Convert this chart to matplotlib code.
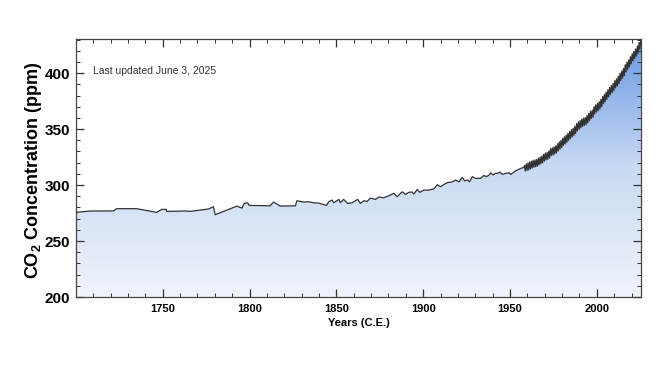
import numpy as np
import matplotlib
matplotlib.use("Agg")
from matplotlib import pyplot as plt
from matplotlib.colors import LinearSegmentedColormap

plt.rcParams['font.family'] = ['Liberation Sans', 'DejaVu Sans']
plt.rcParams['mathtext.fontset'] = 'custom'
plt.rcParams['mathtext.bf'] = 'Liberation Sans:bold'

# Ice core record
ice_years = [1700, 1708, 1721.5, 1723.5, 1735, 1746.5, 1749.4, 1752, 1752.3, 1763, 1765.8,
             1776.3, 1779.2, 1780.2, 1792.7, 1795.6, 1796.9, 1798.9, 1799.8, 1811.9,
             1813.8, 1817.7, 1826.4, 1827.3, 1831.2, 1834, 1836.9, 1839.8, 1844.3, 1845.6,
             1847.5, 1848.5, 1851.4, 1852.3, 1854.2, 1856.5, 1859, 1862.3, 1863.8, 1865.8,
             1867.7, 1869.6, 1872.5, 1874.5, 1877.3, 1880.2, 1883.1, 1885, 1887.9, 1889.8,
             1891.7, 1893.6, 1894.6, 1896.6, 1898, 1900.4, 1903.3, 1906.2, 1908.1, 1910,
             1912, 1913.9, 1916.8, 1918.7, 1920.6, 1922.5, 1923.9, 1925.4, 1926.7, 1928.3,
             1930.2, 1933.1, 1935, 1936.4, 1938, 1938.9, 1940.3, 1941.4, 1942.7, 1944.3,
             1945.6, 1947.5, 1949.5, 1950.4, 1953.3, 1956.2, 1958.1]
ice_co2 = [275.6, 276.8, 276.9, 278.9, 278.9, 275.6, 278.3, 278.3, 276.5, 276.8, 276.5,
           278.6, 280.6, 273.5, 281.2, 279.4, 283.6, 284.2, 281.8, 281.5,
           284.8, 281.2, 281.5, 286.0, 284.8, 285.1, 284.2, 283.9, 281.8, 285.1,
           286.6, 284.2, 287.2, 284.2, 287.2, 283.6, 284.2, 287.2, 283.6, 286.0,
           285.4, 288.4, 287.2, 289.3, 288.7, 290.5, 292.6, 289.6, 294.0, 291.7,
           293.5, 293.8, 292.0, 296.1, 293.5, 295.5, 295.5, 296.7, 300.3, 298.5,
           300.6, 302.1, 302.9, 304.5, 302.9, 306.9, 303.8, 304.5, 302.9, 307.5,
           306.0, 306.0, 308.6, 307.5, 309.0, 311.0, 309.0, 310.4, 310.4, 311.6,
           309.5, 310.4, 311.0, 309.5, 312.8, 314.9, 315.8]

# Mauna Loa: May highs and October lows each year
mlo_years = list(range(1958, 2026))
mlo_may = [317.5, 318.9, 319.8, 320.6, 321.3, 322.0, 322.5, 322.9, 324.2, 325.0,
           325.9, 327.5, 328.6, 329.2, 330.4, 332.6, 333.2, 334.1, 335.0, 336.9,
           338.5, 339.9, 341.8, 343.2, 344.6, 346.3, 348.0, 349.5, 350.8, 352.5,
           354.9, 356.4, 357.6, 358.9, 359.7, 360.4, 362.1, 364.1, 365.9, 367.0,
           370.0, 371.7, 372.9, 374.5, 376.6, 379.2, 380.9, 383.1, 385.2, 387.2,
           389.0, 390.8, 393.3, 395.0, 397.2, 399.9, 401.9, 404.1, 407.5, 409.8,
           411.8, 414.7, 417.3, 419.5, 421.6, 424.1, 427.6, 430.5]
mlo_oct = [312.4, 313.0, 313.6, 314.4, 315.2, 315.9, 316.4, 316.8, 318.1, 318.9,
           319.8, 321.4, 322.4, 323.0, 324.2, 326.4, 326.9, 327.8, 328.7, 330.5,
           332.1, 333.5, 335.4, 336.8, 338.2, 339.9, 341.6, 343.0, 344.3, 346.0,
           348.4, 349.9, 351.1, 352.4, 353.2, 353.9, 355.6, 357.6, 359.4, 360.5,
           363.5, 365.2, 366.4, 368.0, 370.1, 372.6, 374.4, 376.6, 378.7, 380.7,
           382.5, 384.3, 386.8, 388.5, 390.7, 393.4, 395.5, 397.7, 401.1, 403.4,
           405.4, 408.3, 410.9, 413.1, 415.2, 417.7, 421.3]

# merge into one series
x = list(ice_years)
y = list(ice_co2)
for i, yr in enumerate(mlo_years):
    x.append(yr + 0.37)
    y.append(mlo_may[i])
    if i < len(mlo_oct):
        x.append(yr + 0.79)
        y.append(mlo_oct[i])
x = np.array(x)
y = np.array(y)

fig = plt.figure(figsize=(6.72, 3.72), dpi=100)
ax = fig.add_axes([0.113, 0.2016, 0.841, 0.6936])

xmin, xmax = 1700, 2025.5
ymin, ymax = 200, 430.5

# gradient fill under the curve
cmap = LinearSegmentedColormap.from_list("co2", ["#f0f4fc", "#c9daf3", "#6899e4"])
grad = np.linspace(0, 1, 256).reshape(-1, 1)
img = ax.imshow(grad, extent=[xmin, xmax, ymin, ymax], origin="lower",
                aspect="auto", cmap=cmap, zorder=1)
poly = ax.fill_between(x, ymin, y, facecolor="none", edgecolor="none")
clip = poly.get_paths()[0]
img.set_clip_path(clip, transform=ax.transData)

ax.plot(x, y, color="#333333", lw=0.9, zorder=3)

ax.set_xlim(xmin, xmax)
ax.set_ylim(ymin, ymax)

ax.set_xticks([1750, 1800, 1850, 1900, 1950, 2000])
ax.set_xticks(np.arange(1700, 2026, 10), minor=True)
ax.set_yticks([200, 250, 300, 350, 400])
ax.set_yticks(np.arange(200, 431, 10), minor=True)
ax.tick_params(which="both", direction="in", top=True, right=True, color="#333333")
ax.tick_params(which="major", length=6, width=0.9)
ax.tick_params(which="minor", length=3, width=0.7)
ax.tick_params(axis="x", labelsize=8, pad=5)
ax.tick_params(axis="y", labelsize=11, pad=4)
for lab in ax.get_xticklabels() + ax.get_yticklabels():
    lab.set_fontweight("bold")
for s in ax.spines.values():
    s.set_color("#444444")
    s.set_linewidth(0.9)

ax.set_xlabel("Years (C.E.)", fontsize=8, fontweight="bold", labelpad=3)
ax.set_ylabel(r"CO$_\mathbf{2}$ Concentration (ppm)", fontsize=13, fontweight="bold")
ax.yaxis.set_label_coords(-0.056, 0.49)

ax.text(0.03, 0.875, "Last updated June 3, 2025", transform=ax.transAxes,
        fontsize=7.5, color="#333333", va="center")

fig.savefig("out.png", dpi=100)
